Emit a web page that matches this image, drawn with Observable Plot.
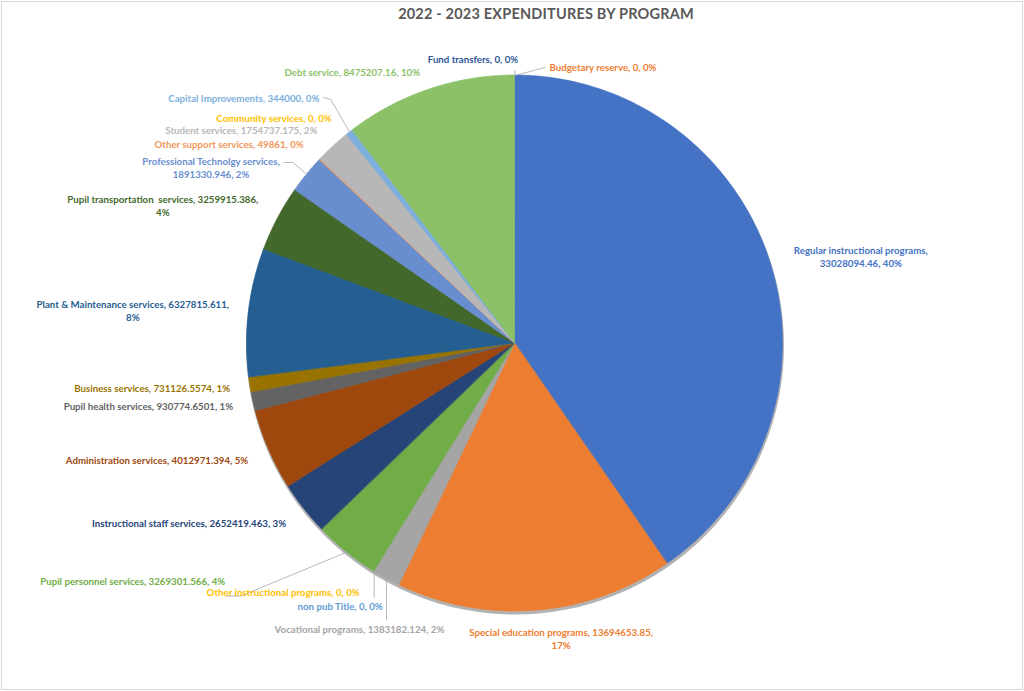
<!DOCTYPE html>
<html><head><meta charset="utf-8">
<script src="https://cdn.jsdelivr.net/npm/d3@7"></script>
<script src="https://cdn.jsdelivr.net/npm/@observablehq/plot@0.6"></script>
<style>
html,body{margin:0;padding:0;background:#fff;}
#chart{position:relative;width:1024px;height:691px;overflow:hidden;background:#fff;}
#frame{position:absolute;left:1px;top:1px;width:1020px;height:687px;border:1px solid #d9d9d9;}
#title{position:absolute;top:5px;left:68px;width:956px;text-align:center;font-family:Lato,"Open Sans",sans-serif;font-weight:bold;font-size:14.5px;color:#595959;letter-spacing:0.2px;}
#plot{position:absolute;left:0;top:0;}
g[aria-label="shadow"]{filter:blur(3px);}
</style>
</head><body>
<div id="chart"><div id="frame"></div><div id="title">2022 - 2023 EXPENDITURES BY PROGRAM</div><div id="plot"></div></div>
<script>
// ---- data ----
const programs = [
  "Regular instructional programs","Special education programs","Vocational programs",
  "Other instructional programs","non pub Title","Pupil personnel services",
  "Instructional staff services","Administration services","Pupil health services",
  "Business services","Plant & Maintenance services","Pupil transportation  services",
  "Professional Technolgy services","Other support services","Student services",
  "Community services","Capital Improvements","Debt service","Fund transfers","Budgetary reserve"
];
const amounts = [
  33028094.46, 13694653.85, 1383182.124,
  0, 0, 3269301.566,
  2652419.463, 4012971.394, 930774.6501,
  731126.5574, 6327815.611, 3259915.386,
  1891330.946, 49861, 1754737.175,
  0, 344000, 8475207.16, 0, 0
];
const colors = [
  "#4472C4","#ED7D31","#A5A5A5",
  "#FFC000","#5B9BD5","#70AD47",
  "#264478","#9E480E","#636363",
  "#997300","#255E91","#43682B",
  "#698ED0","#F1975A","#B7B7B7",
  "#FFCD33","#7CAFDD","#8CC168","#335AA1","#D26012"
];
const labelColors = [
  "#4472C4","#ED7D31","#A5A5A5",
  "#FFC000","#5B9BD5","#70AD47",
  "#264478","#9E480E","#636363",
  "#997300","#255E91","#43682B",
  "#698ED0","#F1975A","#B7B7B7",
  "#FFC000","#7CAFDD","#8CC168","#2F5597","#ED7D31"
];

// ---- layout (pixel offsets of each label from its slice's outer mid point) ----
// [dx, dy, comma parts on first line (0 = single line), leader waypoints]
const layout = [
  [90, -7, 1, null],
  [25, 28, 2, null],
  [-27, 50, 0, [[0, 41]]],
  [-91, 20, 0, null],
  [-34, 34, 0, [[0, 26]]],
  [-214, 29, 0, [[-106, 44], [-120, 44]]],
  [-115, 14, 0, null],
  [-112, 10, 0, null],
  [-105, 4, 0, null],
  [-98, 3, 0, null],
  [-116, -2, 2, null],
  [-115, -13, 2, null],
  [-96, -7, 1, [[-14, -12], [-23, -12]]],
  [-91, -16, 0, null],
  [-92, -17, 0, null],
  [-73, -17, 0, null],
  [-106, -35, 0, [[-19, -33], [-26, -35]]],
  [-77, -18, 0, null],
  [-42, -17, 0, [[0, -5]]],
  [88, -9, 0, [[30, -8]]]
];

const W = 1024, H = 691, CX = 514.5, CY = 343, R = 268;
const total = d3.sum(amounts);
const arcs = d3.pie().sort(null).value(d => d)(amounts);

const slicePts = [];
arcs.forEach((a, i) => {
  const span = a.endAngle - a.startAngle;
  if (span <= 0) return;
  const n = Math.max(2, Math.ceil(span / (Math.PI / 360)));
  for (let j = 0; j <= n; j++) {
    const t = a.startAngle + span * j / n;
    slicePts.push({k: i, x1: Math.sin(t), y1: Math.cos(t), x2: 0, y2: 0, c: colors[i]});
  }
});

const labels = [];
const leaders = [];
arcs.forEach((a, i) => {
  const mid = (a.startAngle + a.endAngle) / 2;
  const ex = Math.sin(mid), ey = Math.cos(mid);
  const [dx, dy, brk, lead] = layout[i];
  const pct = Math.round(amounts[i] / total * 100);
  const parts = [programs[i], String(amounts[i]), pct + "%"];
  let text;
  if (brk === 1) text = parts[0] + ",\n" + parts[1] + ", " + parts[2];
  else if (brk === 2) text = parts[0] + ", " + parts[1] + ",\n" + parts[2];
  else text = parts.join(", ");
  labels.push({x: ex + dx / R, y: ey - dy / R, text, c: labelColors[i]});
  if (lead) {
    leaders.push({k: i, x: ex, y: ey});
    lead.forEach(([ox, oy]) => leaders.push({k: i, x: ex + ox / R, y: ey - oy / R}));
  }
});

const chart = Plot.plot({
  width: W, height: H,
  marginTop: 0, marginRight: 0, marginBottom: 0, marginLeft: 0,
  x: {domain: [-CX / R, (W - CX) / R], range: [0, W], axis: null},
  y: {domain: [-(H - CY) / R, CY / R], range: [H, 0], axis: null},
  color: {type: "identity"},
  style: {background: "transparent", overflow: "visible"},
  marks: [
    Plot.dot([{x: 0, y: -2 / R}], {x: "x", y: "y", r: R + 1, fill: "#000", fillOpacity: 0.3, stroke: "none", ariaLabel: "shadow"}),
    Plot.area(slicePts, {x1: "x1", y1: "y1", x2: "x2", y2: "y2", z: "k", fill: "c", stroke: "c", strokeWidth: 0.6, curve: "linear"}),
    Plot.line(leaders, {x: "x", y: "y", z: "k", stroke: "#a6a6a6", strokeWidth: 0.8, curve: "linear"}),
    Plot.text(labels, {x: "x", y: "y", text: "text", fill: "c", fontSize: 9.7, fontWeight: "bold",
      fontFamily: "Lato, 'Open Sans', sans-serif", textAnchor: "middle", lineAnchor: "middle", lineHeight: 1.35})
  ]
});
document.getElementById("plot").appendChild(chart);
</script>
</body></html>
